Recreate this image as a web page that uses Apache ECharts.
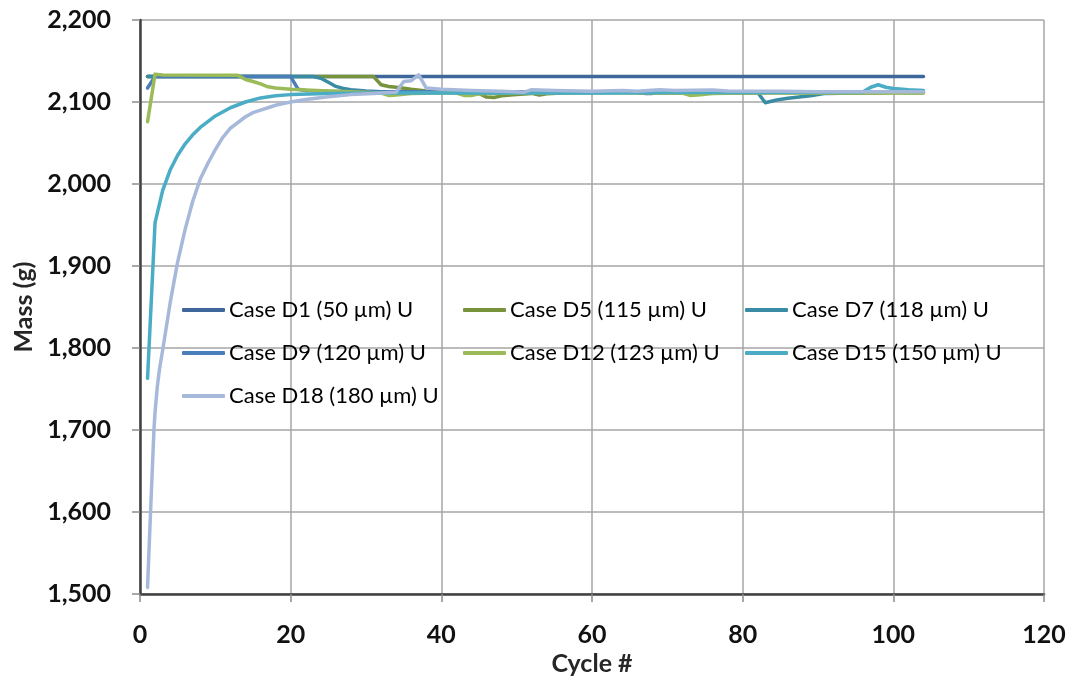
<!DOCTYPE html>
<html>
<head>
<meta charset="utf-8">
<script src="https://cdn.jsdelivr.net/npm/echarts@6/dist/echarts.min.js"></script>
<style>
  html, body { margin: 0; padding: 0; background: #ffffff; }
  #chart { width: 1076px; height: 685px; }
</style>
</head>
<body>
<div id="chart"></div>
<script>
// Mass per cycle for each case (cycle #, grams)
const d1Cycles = [1, 104];
const d1Mass = [2131, 2131];

const d5Cycles = [1, 31, 32, 33, 34, 36, 38, 40, 42, 45, 46, 47, 48, 50, 52, 53, 54, 56, 60, 65, 70, 75, 80, 85, 90, 95, 100, 104];
const d5Mass = [2131, 2131, 2121, 2119, 2118, 2115.5, 2113.5, 2112.5, 2112, 2110.5, 2106, 2105.5, 2107.5, 2109, 2110.5, 2108.5, 2110, 2111, 2111.5, 2111.5, 2111, 2111.5, 2111, 2111.5, 2111, 2111, 2111.5, 2111.5];

const d7Cycles = [1, 23, 24, 25, 26, 27, 28, 30, 32, 35, 40, 50, 60, 70, 80, 82, 83, 84.5, 86, 89, 91, 95, 100, 104];
const d7Mass = [2131, 2131, 2129, 2124, 2119, 2116.5, 2115, 2113.5, 2112.5, 2112, 2112, 2112, 2111.5, 2111.5, 2112, 2111.5, 2099, 2102.5, 2104.5, 2107.5, 2110.5, 2111, 2111.5, 2111.5];

const d9Cycles = [1, 2, 20, 21, 22, 25, 30, 40, 50, 60, 66, 67, 68, 69, 70, 80, 90, 100, 104];
const d9Mass = [2117, 2131, 2131, 2115.5, 2114, 2113, 2112.5, 2112.5, 2112.5, 2112.5, 2112, 2110.5, 2110.5, 2112, 2112.5, 2112, 2112, 2112, 2111.5];

const d12Cycles = [1, 2, 3, 13, 14, 15, 16, 17, 18, 20, 22, 25, 30, 32, 33, 34, 36, 40, 42, 43, 44, 45, 50, 60, 70, 72, 73, 74, 76, 80, 90, 100, 104];
const d12Mass = [2076, 2134, 2133, 2132.5, 2127.5, 2125, 2122, 2118.5, 2117, 2115.5, 2114.5, 2113.5, 2112, 2111, 2108, 2108.5, 2110.5, 2111, 2111, 2108, 2108, 2110, 2111, 2111.5, 2111, 2111, 2108, 2108.5, 2110.5, 2111, 2111, 2111, 2111];

const d15Cycles = [1, 2, 3, 4, 5, 6, 7, 8, 9, 10, 12, 14, 16, 18, 20, 25, 30, 40, 50, 60, 70, 80, 90, 96, 97, 98, 99, 100, 102, 104];
const d15Mass = [1763, 1953, 1992, 2017, 2035, 2049, 2060, 2069, 2076, 2083, 2093, 2100, 2105, 2107.5, 2109, 2110.5, 2111, 2111, 2111, 2111, 2111.5, 2111.5, 2112, 2112.5, 2118, 2121, 2118, 2116.5, 2115, 2114];

const d18Cycles = [1, 1.4, 1.85, 2, 2.3, 2.6, 3, 4, 5, 6, 7, 8, 9, 10, 11, 12, 13, 14, 15, 16, 17, 18, 19, 20, 22, 25, 28, 31, 33, 34, 35, 36, 37, 38, 40, 44, 48, 51, 52, 55, 60, 64, 66, 69, 71, 76, 78, 85, 90, 95, 100, 104];
const d18Mass = [1508, 1600, 1700, 1722, 1753, 1775, 1797, 1855, 1905, 1945, 1979, 2006, 2025, 2042, 2057, 2068, 2075, 2082, 2087, 2090, 2093, 2096, 2098, 2100, 2103, 2106.5, 2109, 2110.5, 2111.5, 2112, 2125, 2126, 2133, 2117, 2115.5, 2114, 2113, 2112, 2115, 2114, 2113, 2114, 2113, 2115, 2114, 2114.5, 2113.5, 2113, 2112.5, 2112.5, 2112.5, 2112.5];

// Series names, colours and drawing order
const seriesNames = [
  'Case D1 (50 µm) U', 'Case D5 (115 µm) U', 'Case D7 (118 µm) U',
  'Case D9 (120 µm) U', 'Case D12 (123 µm) U', 'Case D15 (150 µm) U',
  'Case D18 (180 µm) U'
];
const seriesColors = ['#3F679C', '#77933C', '#3A8CA5', '#4A7EBB', '#9BBB59', '#4BACC6', '#A7B9DA'];
const seriesCycles = [d1Cycles, d5Cycles, d7Cycles, d9Cycles, d12Cycles, d15Cycles, d18Cycles];
const seriesMass = [d1Mass, d5Mass, d7Mass, d9Mass, d12Mass, d15Mass, d18Mass];

// Axis ranges and ticks
const xTicks = [0, 20, 40, 60, 80, 100, 120];
const yTicks = [1500, 1600, 1700, 1800, 1900, 2000, 2100, 2200];

// Legend columns (names in each column, top to bottom)
const legendColumns = [
  ['Case D1 (50 µm) U', 'Case D9 (120 µm) U', 'Case D18 (180 µm) U'],
  ['Case D5 (115 µm) U', 'Case D12 (123 µm) U'],
  ['Case D7 (118 µm) U', 'Case D15 (150 µm) U']
];

const FONT = 'Lato, "Noto Sans", sans-serif';

const chart = echarts.init(document.getElementById('chart'), null, { renderer: 'canvas' });

const series = seriesNames.map((name, i) => ({
  name: name,
  type: 'line',
  symbol: 'none',
  color: seriesColors[i],
  lineStyle: { width: 3.5, color: seriesColors[i], cap: 'round', join: 'round' },
  data: seriesCycles[i].map((c, k) => [c, seriesMass[i][k]]),
  z: 2 + i,
  animation: false
}));

const legendLefts = [182, 463, 745];
const legends = legendColumns.map((names, i) => ({
  data: names,
  orient: 'vertical',
  left: legendLefts[i],
  top: 297,
  itemWidth: 43,
  itemHeight: 4,
  itemGap: 17,
  icon: 'roundRect',
  selectedMode: false,
  padding: 0,
  textStyle: { fontFamily: FONT, fontSize: 22, color: '#000', lineHeight: 26, padding: [0, 0, 0, -1] }
}));

chart.setOption({
  backgroundColor: '#ffffff',
  animation: false,
  grid: { left: 140, right: 32, top: 20, bottom: 91, containLabel: false },
  legend: legends,
  xAxis: {
    type: 'value',
    min: xTicks[0],
    max: xTicks[xTicks.length - 1],
    interval: xTicks[1] - xTicks[0],
    name: 'Cycle #',
    nameLocation: 'middle',
    nameGap: 56,
    nameTextStyle: { fontFamily: FONT, fontSize: 25, fontWeight: 'bold', color: '#262626' },
    axisLine: { show: true, onZero: false, lineStyle: { color: '#404040', width: 2.5 } },
    axisTick: { show: true, length: 8, lineStyle: { color: '#8C8C8C', width: 1.5 } },
    axisLabel: { margin: 28, fontFamily: FONT, fontSize: 25, fontWeight: 'bold', color: '#111' },
    splitLine: { show: true, lineStyle: { color: '#A6A6A6', width: 1.5 } }
  },
  yAxis: {
    type: 'value',
    min: yTicks[0],
    max: yTicks[yTicks.length - 1],
    interval: yTicks[1] - yTicks[0],
    name: 'Mass (g)',
    nameLocation: 'middle',
    nameGap: 102,
    nameRotate: 90,
    nameTextStyle: { fontFamily: FONT, fontSize: 25, fontWeight: 'bold', color: '#262626' },
    axisLine: { show: true, onZero: false, lineStyle: { color: '#404040', width: 2.5 } },
    axisTick: { show: true, length: 8, lineStyle: { color: '#8C8C8C', width: 1.5 } },
    axisLabel: {
      margin: 29, fontFamily: FONT, fontSize: 25, fontWeight: 'bold', color: '#111',
      formatter: v => v.toLocaleString('en-US')
    },
    splitLine: { show: true, lineStyle: { color: '#A6A6A6', width: 1.5 } }
  },
  series: series
});
</script>
</body>
</html>
